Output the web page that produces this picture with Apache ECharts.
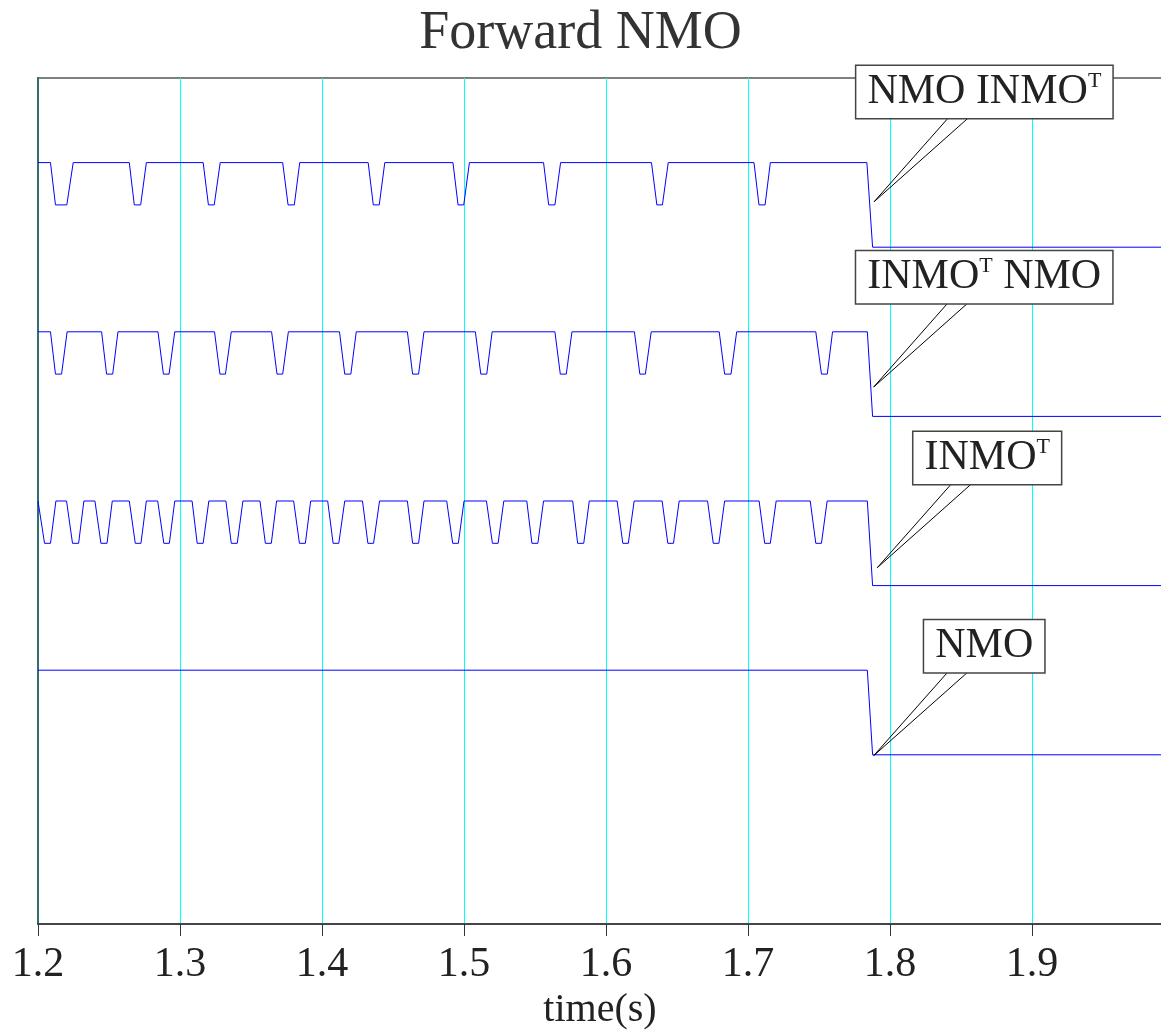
<!DOCTYPE html>
<html>
<head>
<meta charset="utf-8">
<title>Forward NMO</title>
<script src="https://cdn.jsdelivr.net/npm/echarts@6/dist/echarts.min.js"></script>
<style>
  html, body { margin: 0; padding: 0; background: #fff; }
  #chart { width: 1161px; height: 1036px; }
</style>
</head>
<body>
<div id="chart"></div>
<script>
// time axis (s)
var timeMin = 1.2;
var timeMax = 1.9915;
var tickStep = 0.1;

// each notch: [start of drop, start of bottom, end of bottom, back on top] in seconds
var notchesNmoInmo = [
  [1.2088, 1.2123, 1.2203, 1.2248],
  [1.2643, 1.2678, 1.2723, 1.2763],
  [1.3163, 1.3200, 1.3241, 1.3283],
  [1.3723, 1.3761, 1.3805, 1.3843],
  [1.4325, 1.4361, 1.4403, 1.4442],
  [1.4922, 1.4958, 1.4998, 1.5038],
  [1.5560, 1.5596, 1.5640, 1.5680],
  [1.6320, 1.6358, 1.6397, 1.6438],
  [1.7042, 1.7077, 1.7120, 1.7157]
];
var notchesInmoNmo = [
  [1.2088, 1.2123, 1.2166, 1.2205],
  [1.2448, 1.2483, 1.2526, 1.2563],
  [1.2845, 1.2883, 1.2923, 1.2963],
  [1.3243, 1.3281, 1.3320, 1.3361],
  [1.3645, 1.3683, 1.3723, 1.3763],
  [1.4123, 1.4160, 1.4203, 1.4241],
  [1.4601, 1.4638, 1.4680, 1.4718],
  [1.5080, 1.5118, 1.5160, 1.5198],
  [1.5640, 1.5678, 1.5720, 1.5760],
  [1.6200, 1.6238, 1.6277, 1.6318],
  [1.6797, 1.6835, 1.6880, 1.6920],
  [1.7477, 1.7517, 1.7558, 1.7595]
];
var notchesInmo = [
  [1.2000, 1.2046, 1.2088, 1.2126],
  [1.2201, 1.2243, 1.2286, 1.2323],
  [1.2401, 1.2443, 1.2486, 1.2523],
  [1.2643, 1.2685, 1.2725, 1.2763],
  [1.2843, 1.2886, 1.2925, 1.2963],
  [1.3085, 1.3121, 1.3163, 1.3203],
  [1.3323, 1.3361, 1.3403, 1.3443],
  [1.3563, 1.3601, 1.3643, 1.3680],
  [1.3800, 1.3841, 1.3883, 1.3920],
  [1.4040, 1.4078, 1.4118, 1.4160],
  [1.4285, 1.4323, 1.4363, 1.4405],
  [1.4601, 1.4638, 1.4680, 1.4718],
  [1.4878, 1.4920, 1.4960, 1.5000],
  [1.5158, 1.5200, 1.5240, 1.5280],
  [1.5442, 1.5478, 1.5520, 1.5560],
  [1.5765, 1.5800, 1.5843, 1.5882],
  [1.6078, 1.6118, 1.6157, 1.6198],
  [1.6395, 1.6435, 1.6475, 1.6515],
  [1.6715, 1.6755, 1.6795, 1.6835],
  [1.7078, 1.7117, 1.7157, 1.7198],
  [1.7438, 1.7477, 1.7517, 1.7557]
];
var notchesNmo = [];

// step down near the end of every trace: [last high sample, first low sample]
var stepNmoInmo = [1.7837, 1.7877];
var stepInmoNmo = [1.7840, 1.7877];
var stepInmo = [1.7840, 1.7877];
var stepNmo = [1.7840, 1.7877];

// trace base levels (low level after the step), high level and notch level
var traceBase = [4, 3, 2, 1];
var highOffset = 0.5;
var notchOffset = 0.25;

// callout labels
var labelTexts = ["NMO INMOᵀ", "INMOᵀ NMO", "INMOᵀ", "NMO"];
var labelTipTime = [1.7888, 1.7885, 1.7910, 1.7885];
var labelTipValue = [4.269, 3.174, 2.106, 0.995];
var labelBoxTime = [1.8664, 1.8663, 1.8684, 1.8663];
var labelBoxValue = [4.917, 3.823, 2.754, 1.642];

var serifFont = '"Liberation Serif", "DejaVu Serif", serif';

function buildTrace(notches, step, base) {
  var high = base + highOffset;
  var low = base + notchOffset;
  var pts = [[timeMin, high]];
  notches.forEach(function (n) {
    pts.push([n[0], high]);
    pts.push([n[1], low]);
    pts.push([n[2], low]);
    pts.push([n[3], high]);
  });
  pts.push([step[0], high]);
  pts.push([step[1], base]);
  pts.push([timeMax, base]);
  return pts;
}

var traces = [
  buildTrace(notchesNmoInmo, stepNmoInmo, traceBase[0]),
  buildTrace(notchesInmoNmo, stepInmoNmo, traceBase[1]),
  buildTrace(notchesInmo, stepInmo, traceBase[2]),
  buildTrace(notchesNmo, stepNmo, traceBase[3])
];

var lineSeries = traces.map(function (d) {
  return {
    type: "line",
    data: d,
    showSymbol: false,
    silent: true,
    lineStyle: { color: "#0000ff", width: 1 },
    z: 3
  };
});

function richLabel(txt) {
  return "{m|" + txt.replace(/ᵀ/g, "}{s|T}{m|") + "}";
}

var calloutSeries = {
  type: "custom",
  coordinateSystem: "cartesian2d",
  silent: true,
  z: 10,
  data: labelTexts.map(function (t, i) {
    return [labelTipTime[i], labelTipValue[i], labelBoxTime[i], labelBoxValue[i]];
  }),
  renderItem: function (params, api) {
    var tip = api.coord([api.value(0), api.value(1)]);
    var box = api.coord([api.value(2), api.value(3)]);
    var footY = box[1] + 26;
    return {
      type: "group",
      children: [
        {
          type: "line",
          shape: { x1: tip[0], y1: tip[1], x2: tip[0] + 74, y2: footY },
          style: { stroke: "#000", lineWidth: 1 }
        },
        {
          type: "line",
          shape: { x1: tip[0], y1: tip[1], x2: tip[0] + 94, y2: footY },
          style: { stroke: "#000", lineWidth: 1 }
        },
        {
          type: "text",
          x: box[0],
          y: box[1],
          style: {
            text: richLabel(labelTexts[params.dataIndex]),
            align: "center",
            verticalAlign: "middle",
            backgroundColor: "#fff",
            borderColor: "#444",
            borderWidth: 1.5,
            padding: [4, 11, 4, 11],
            rich: {
              m: { fontSize: 42, lineHeight: 44, fontFamily: serifFont, fill: "#222" },
              s: { fontSize: 22, lineHeight: 30, fontFamily: serifFont, fill: "#222", verticalAlign: "top" }
            }
          }
        }
      ]
    };
  }
};

var chart = echarts.init(document.getElementById("chart"));
var option = {
  animation: false,
  backgroundColor: "#fff",
  title: {
    text: "Forward NMO",
    left: "center",
    top: 2,
    textStyle: { fontFamily: serifFont, fontSize: 54, fontWeight: "normal", color: "#333" }
  },
  grid: {
    left: 38, right: -1, top: 78, bottom: 112,
    outerBoundsMode: "none",
    show: true,
    borderColor: "#555",
    borderWidth: 1.5,
    backgroundColor: "transparent"
  },
  xAxis: {
    type: "value",
    position: "bottom",
    min: timeMin,
    max: timeMax,
    interval: tickStep,
    name: "time(s)",
    nameLocation: "middle",
    nameGap: 64,
    nameTextStyle: { fontFamily: serifFont, fontSize: 40, color: "#222" },
    axisLine: { onZero: false, lineStyle: { color: "#333", width: 1.5 } },
    axisTick: { show: true, length: 12, lineStyle: { color: "#333" } },
    axisLabel: {
      margin: 20,
      fontFamily: serifFont,
      fontSize: 42,
      color: "#222",
      showMaxLabel: false,
      formatter: function (v) { return v.toFixed(1); }
    },
    splitLine: { show: true, lineStyle: { color: "#00ffff", width: 1 } }
  },
  yAxis: {
    type: "value",
    min: 0,
    max: 5,
    axisLine: { show: true, onZero: false, lineStyle: { color: "#2f6f6f", width: 2 } },
    axisTick: { show: false },
    axisLabel: { show: false },
    splitLine: { show: false }
  },
  series: lineSeries.concat([calloutSeries])
};
chart.setOption(option);
</script>
</body>
</html>
